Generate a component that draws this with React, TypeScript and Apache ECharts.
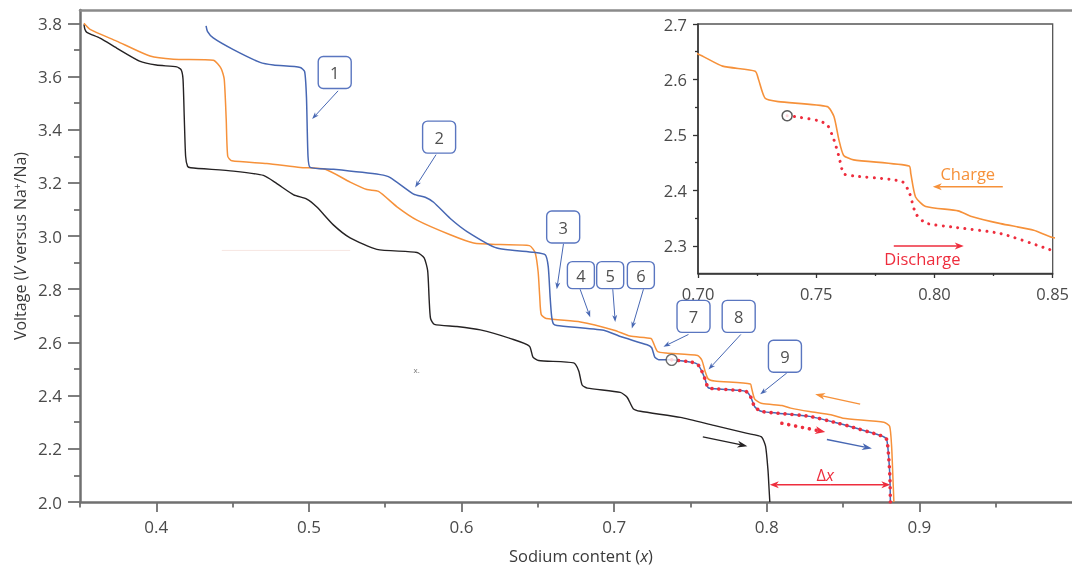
import { useEffect, useRef } from 'react';
import * as echarts from 'echarts';

type Pt = [number, number];

// First discharge (black): sodium content x vs voltage
const firstDischarge: Pt[] = [
  [0.3526, 3.796], [0.3532, 3.778], [0.3545, 3.766], [0.3631, 3.744], [0.374, 3.707], [0.389, 3.658],
  [0.4, 3.643], [0.4134, 3.636], [0.4163, 3.625], [0.4175, 3.59], [0.4183, 3.45], [0.4192, 3.3],
  [0.4205, 3.262], [0.4225, 3.257], [0.4505, 3.244], [0.4702, 3.228], [0.479, 3.197], [0.49, 3.155],
  [0.4986, 3.139], [0.5052, 3.109], [0.516, 3.042], [0.527, 2.993], [0.5445, 2.95], [0.5708, 2.938],
  [0.5755, 2.918], [0.5778, 2.87], [0.5788, 2.76], [0.5797, 2.69], [0.5822, 2.668], [0.597, 2.66],
  [0.6123, 2.647], [0.634, 2.611], [0.6445, 2.586], [0.6468, 2.545], [0.6505, 2.532], [0.6735, 2.523],
  [0.6768, 2.493], [0.679, 2.44], [0.6825, 2.428], [0.704, 2.412], [0.7085, 2.394], [0.7125, 2.351],
  [0.7172, 2.341], [0.7434, 2.318], [0.7653, 2.288], [0.7872, 2.258], [0.7965, 2.245], [0.7992, 2.21],
  [0.8008, 2.12], [0.8015, 2.05], [0.802, 2.0],
];

// Charge (orange)
const chargeCurve: Pt[] = [
  [0.3526, 3.8], [0.3566, 3.777], [0.374, 3.733], [0.3959, 3.677], [0.4112, 3.665], [0.4374, 3.661],
  [0.4425, 3.63], [0.4445, 3.59], [0.4458, 3.44], [0.4468, 3.3], [0.4495, 3.283], [0.4724, 3.273],
  [0.4943, 3.258], [0.5107, 3.251], [0.527, 3.203], [0.538, 3.175], [0.5456, 3.168], [0.5577, 3.11],
  [0.5708, 3.06], [0.5926, 3.005], [0.6079, 2.974], [0.6254, 2.968], [0.6445, 2.964], [0.6482, 2.938],
  [0.6502, 2.865], [0.6512, 2.775], [0.6522, 2.705], [0.6555, 2.69], [0.6779, 2.677], [0.7, 2.646],
  [0.7104, 2.624], [0.7242, 2.615], [0.7256, 2.6], [0.7284, 2.566], [0.734, 2.56], [0.7547, 2.551],
  [0.7575, 2.533], [0.7596, 2.491], [0.7616, 2.463], [0.7658, 2.455], [0.7893, 2.444], [0.79, 2.43],
  [0.792, 2.388], [0.7963, 2.371], [0.81, 2.363], [0.8157, 2.353], [0.828, 2.34], [0.842, 2.328],
  [0.85, 2.315], [0.8767, 2.3], [0.8805, 2.285], [0.8818, 2.21], [0.8826, 2.1], [0.8833, 2.0],
];

// Second discharge (blue) down to the open circle
const secondDischarge: Pt[] = [
  [0.4326, 3.79], [0.4335, 3.77], [0.4373, 3.745], [0.4505, 3.701], [0.468, 3.653], [0.4768, 3.643],
  [0.4943, 3.634], [0.4972, 3.618], [0.4984, 3.52], [0.4994, 3.3], [0.5008, 3.258], [0.5161, 3.251],
  [0.5467, 3.231], [0.5533, 3.22], [0.5686, 3.158], [0.5762, 3.146], [0.5817, 3.127], [0.5926, 3.066],
  [0.6036, 3.017], [0.6232, 2.955], [0.6473, 2.939], [0.6548, 2.93], [0.6568, 2.886], [0.658, 2.775],
  [0.659, 2.7], [0.6602, 2.67], [0.6625, 2.664], [0.6932, 2.646], [0.7041, 2.622], [0.7216, 2.591],
  [0.7246, 2.58], [0.7266, 2.545], [0.7292, 2.535],
];

// Discharge from the open circle onwards (red dotted, shared by the blue curve)
const dischargeTail: Pt[] = [
  [0.7377, 2.5345], [0.7409, 2.533], [0.7506, 2.526], [0.7547, 2.518], [0.7575, 2.491], [0.7596, 2.461],
  [0.7616, 2.43], [0.7658, 2.426], [0.781, 2.42], [0.7866, 2.415], [0.7893, 2.397], [0.7921, 2.358],
  [0.7963, 2.341], [0.8073, 2.334], [0.828, 2.322], [0.8475, 2.295], [0.8527, 2.287], [0.8745, 2.25],
  [0.8785, 2.236], [0.88, 2.16], [0.8807, 2.09], [0.881, 2.0],
];

// Axis ticks and labels
const mainXLabels = [0.4, 0.5, 0.6, 0.7, 0.8, 0.9];
const mainXMinor = [0.35, 0.45, 0.55, 0.65, 0.75, 0.85, 0.95];
const mainYLabels = [2.0, 2.2, 2.4, 2.6, 2.8, 3.0, 3.2, 3.4, 3.6, 3.8];
const mainYMinor = [2.1, 2.3, 2.5, 2.7, 2.9, 3.1, 3.3, 3.5, 3.7];
const insetXLabels = [0.7, 0.75, 0.8, 0.85];
const insetXMinor = [0.725, 0.775, 0.825];
const insetYLabels = [2.3, 2.4, 2.5, 2.6, 2.7];
const insetYMinor = [2.35, 2.45, 2.55, 2.65];

// Numbered callouts: box centre, arrow start, arrow tip (data coordinates)
const calloutNumbers = ['1', '2', '3', '4', '5', '6', '7', '8', '9'];
const calloutCenters: Pt[] = [
  [0.5169, 3.615], [0.5853, 3.372], [0.6666, 3.034], [0.6782, 2.853], [0.6974, 2.853],
  [0.7175, 2.853], [0.752, 2.698], [0.7816, 2.698], [0.8119, 2.548],
];
const calloutTails: Pt[] = [
  [0.5191, 3.546], [0.5833, 3.306], [0.6668, 2.971], [0.6777, 2.8], [0.6991, 2.8],
  [0.7192, 2.8], [0.7487, 2.63], [0.783, 2.63], [0.8131, 2.485],
];
const calloutTips: Pt[] = [
  [0.5021, 3.44], [0.5696, 3.183], [0.6624, 2.8], [0.6843, 2.695], [0.7007, 2.677],
  [0.7116, 2.652], [0.7323, 2.584], [0.7618, 2.498], [0.7957, 2.405],
];
const smallCallouts = ['4', '5', '6'];

// Direction arrows (data coordinates)
const chargeArrow: Pt[] = [[0.8612, 2.368], [0.8317, 2.405]];
const redArrow: Pt[] = [[0.8099, 2.296], [0.8383, 2.263]];
const blueArrow: Pt[] = [[0.8394, 2.235], [0.8689, 2.201]];
const blackArrow: Pt[] = [[0.7581, 2.245], [0.7873, 2.21]];
const deltaLevel = 2.065;
const deltaLabelAt: Pt = [0.8383, 2.102];

// Inset legend texts and arrows (inset data coordinates)
const insetChargeLabel: Pt = [0.8141, 2.4297];
const insetChargeArrow: Pt[] = [[0.8289, 2.4063], [0.7993, 2.4063]];
const insetDischargeLabel: Pt = [0.7949, 2.2762];
const insetDischargeArrow: Pt[] = [[0.7828, 2.2996], [0.8124, 2.2996]];

const strayMarkAt: Pt = [0.5706, 2.5];
const faintStroke: Pt[] = [[0.4429, 2.946], [0.527, 2.946]];

const FONT = "'Open Sans', 'Noto Sans', sans-serif";
const ORANGE = '#f6913a';
const BLUE = '#4767b3';
const BOX_BLUE = '#5a76c0';
const RED = '#ee2d3d';
const BLACK = '#252223';
const AXIS = '#707070';
const LABEL = '#4a4a4a';

function arrow(a: number[], b: number[], color: string, lw: number, hl: number, hw: number, dash?: number[]) {
  const dx = b[0] - a[0];
  const dy = b[1] - a[1];
  const L = Math.hypot(dx, dy) || 1;
  const ux = dx / L;
  const uy = dy / L;
  const bx = b[0] - ux * hl;
  const by = b[1] - uy * hl;
  const nx = -uy;
  const ny = ux;
  const notch = [b[0] - ux * hl * 0.72, b[1] - uy * hl * 0.72];
  return [
    {
      type: 'line', silent: true, z: 20,
      shape: { x1: a[0], y1: a[1], x2: notch[0], y2: notch[1] },
      style: dash
        ? { stroke: color, lineWidth: lw, lineDash: dash, lineCap: 'round' }
        : { stroke: color, lineWidth: lw },
    },
    {
      type: 'polygon', silent: true, z: 20,
      shape: { points: [b, [bx + (nx * hw) / 2, by + (ny * hw) / 2], notch, [bx - (nx * hw) / 2, by - (ny * hw) / 2]] },
      style: { fill: color },
    },
  ];
}

export default function App() {
  const ref = useRef<HTMLDivElement>(null);

  useEffect(() => {
    const chart = echarts.init(ref.current!, null, { renderer: 'svg' });
    const lineSeries = (data: Pt[], color: string, width: number, xi: number, yi: number, z = 2, dotted = false, gap = 6.8) => ({
      type: 'line',
      data,
      xAxisIndex: xi,
      yAxisIndex: yi,
      showSymbol: false,
      symbol: 'none',
      smooth: 0.2,
      clip: true,
      z,
      lineStyle: dotted
        ? { color, width, type: [0.01, gap], cap: 'round' }
        : { color, width },
    });

    const labelStyle = { color: LABEL, fontFamily: FONT, fontSize: 17 };
    const insetLabelStyle = { color: LABEL, fontFamily: FONT, fontSize: 16.5 };

    chart.setOption({
      animation: false,
      grid: [
        { left: 80, top: 10, right: 0, height: 499.5 },
        { left: 698, top: 24, width: 360, height: 249.5, show: true, borderColor: '#555', borderWidth: 1.3, backgroundColor: '#fff', z: 5 },
      ],
      xAxis: [
        {
          type: 'value', gridIndex: 0, min: 0.35, max: 1.0, position: 'bottom',
          axisLine: { onZero: false, lineStyle: { color: AXIS, width: 2.5 } },
          axisTick: { customValues: mainXLabels, length: 10, lineStyle: { color: AXIS, width: 1.8 } },
          axisLabel: { customValues: mainXLabels, margin: 16, formatter: (v: number) => v.toFixed(1), ...labelStyle },
          splitLine: { show: false },
          name: 'Sodium content ({it|x})', nameLocation: 'middle', nameGap: 45,
          nameTextStyle: { color: '#3a3a3a', fontFamily: FONT, fontSize: 16.5, padding: [0, 0, 0, 10], rich: { it: { fontStyle: 'italic', fontFamily: FONT, fontSize: 16.5, color: '#3a3a3a' } } },
        },
        {
          type: 'value', gridIndex: 0, min: 0.35, max: 1.0, position: 'bottom',
          axisLine: { show: false, onZero: false },
          axisTick: { customValues: mainXMinor, length: 5.5, lineStyle: { color: AXIS, width: 1.8 } },
          axisLabel: { show: false }, splitLine: { show: false },
        },
        {
          type: 'value', gridIndex: 0, min: 0.35, max: 1.0, position: 'top',
          axisLine: { onZero: false, lineStyle: { color: '#8a8a8a', width: 2.5 } },
          axisTick: { show: false }, axisLabel: { show: false }, splitLine: { show: false },
        },
        {
          type: 'value', gridIndex: 1, min: 0.7, max: 0.85, position: 'bottom', z: 6,
          axisLine: { onZero: false, lineStyle: { color: '#333', width: 1.5 } },
          axisTick: { customValues: insetXLabels, length: 4.5, lineStyle: { color: '#333', width: 1.3 } },
          axisLabel: { customValues: insetXLabels, margin: 11, formatter: (v: number) => v.toFixed(2), ...insetLabelStyle },
          splitLine: { show: false },
        },
        {
          type: 'value', gridIndex: 1, min: 0.7, max: 0.85, position: 'bottom', z: 6,
          axisLine: { show: false, onZero: false },
          axisTick: { customValues: insetXMinor, length: 2.5, lineStyle: { color: '#333', width: 1.3 } },
          axisLabel: { show: false }, splitLine: { show: false },
        },
      ],
      yAxis: [
        {
          type: 'value', gridIndex: 0, min: 2.0, max: 3.85, position: 'left',
          axisLine: { show: true, onZero: false, lineStyle: { color: AXIS, width: 2.5 } },
          axisTick: { show: true, customValues: mainYLabels, length: 12, lineStyle: { color: AXIS, width: 1.8 } },
          axisLabel: { customValues: mainYLabels, margin: 18, formatter: (v: number) => v.toFixed(1), ...labelStyle },
          splitLine: { show: false },
        },
        {
          type: 'value', gridIndex: 0, min: 2.0, max: 3.85, position: 'left',
          axisLine: { show: false, onZero: false },
          axisTick: { show: true, customValues: mainYMinor, length: 6, lineStyle: { color: AXIS, width: 1.8 } },
          axisLabel: { show: false }, splitLine: { show: false },
        },
        {
          type: 'value', gridIndex: 1, min: 2.25, max: 2.7, position: 'left', z: 6,
          axisLine: { show: true, onZero: false, lineStyle: { color: '#333', width: 1.5 } },
          axisTick: { show: true, customValues: insetYLabels, length: 5, lineStyle: { color: '#333', width: 1.3 } },
          axisLabel: { customValues: insetYLabels, margin: 11, formatter: (v: number) => v.toFixed(1), ...insetLabelStyle },
          splitLine: { show: false },
        },
        {
          type: 'value', gridIndex: 1, min: 2.25, max: 2.7, position: 'left', z: 6,
          axisLine: { show: false, onZero: false },
          axisTick: { show: true, customValues: insetYMinor, length: 3, lineStyle: { color: '#333', width: 1.3 } },
          axisLabel: { show: false }, splitLine: { show: false },
        },
      ],
      series: [
        lineSeries(firstDischarge, BLACK, 1.4, 0, 0),
        lineSeries(chargeCurve, ORANGE, 1.5, 0, 0),
        lineSeries(secondDischarge.concat(dischargeTail), BLUE, 1.5, 0, 0, 3),
        lineSeries(dischargeTail, RED, 3.6, 0, 0, 4, true, 7),
        {
          type: 'scatter', xAxisIndex: 0, yAxisIndex: 0, z: 6,
          data: [dischargeTail[0]], symbol: 'circle', symbolSize: 11,
          itemStyle: { color: '#fff', borderColor: '#4a4a4a', borderWidth: 1.3 },
        },
        lineSeries(chargeCurve, ORANGE, 1.6, 3, 2, 7),
        lineSeries(dischargeTail, RED, 3, 3, 2, 8, true, 7.3),
        {
          type: 'scatter', xAxisIndex: 3, yAxisIndex: 2, z: 9,
          data: [dischargeTail[0]], symbol: 'circle', symbolSize: 10,
          itemStyle: { color: '#fff', borderColor: '#333', borderWidth: 1.5 },
        },
      ],
    });

    const P = (p: number[]) => chart.convertToPixel({ xAxisIndex: 0, yAxisIndex: 0 }, p) as number[];
    const Q = (p: number[]) => chart.convertToPixel({ xAxisIndex: 3, yAxisIndex: 2 }, p) as number[];

    const graphics: any[] = [];

    // numbered callouts
    calloutNumbers.forEach((n, i) => {
      const c = P(calloutCenters[i]);
      const small = smallCallouts.includes(n);
      const w = small ? 27 : 33;
      const h = small ? 27 : 32;
      graphics.push(...arrow(P(calloutTails[i]), P(calloutTips[i]), BLUE, 1, 7, 5));
      graphics.push({
        type: 'rect', silent: true, z: 21,
        shape: { x: c[0] - w / 2, y: c[1] - h / 2, width: w, height: h, r: 5 },
        style: { fill: '#fff', stroke: BOX_BLUE, lineWidth: 1.4 },
      });
      graphics.push({
        type: 'text', silent: true, z: 22, x: c[0], y: c[1],
        style: { text: n, fill: '#505050', fontSize: 16.5, fontFamily: FONT, align: 'center', verticalAlign: 'middle' },
      });
    });

    // direction arrows
    graphics.push(...arrow(P(chargeArrow[0]), P(chargeArrow[1]), ORANGE, 1.4, 10, 7));
    graphics.push(...arrow(P(redArrow[0]), P(redArrow[1]), RED, 3.6, 10, 8, [0.01, 7]));
    graphics.push(...arrow(P(blueArrow[0]), P(blueArrow[1]), BLUE, 1.4, 10, 7));
    graphics.push(...arrow(P(blackArrow[0]), P(blackArrow[1]), BLACK, 1.4, 10, 7));

    // Δx between the ends of the first and second discharge
    const xStart = firstDischarge[firstDischarge.length - 1][0];
    const xEnd = dischargeTail[dischargeTail.length - 1][0];
    const dl = P([xStart, deltaLevel]);
    const dr = P([xEnd, deltaLevel]);
    const mid = [(dl[0] + dr[0]) / 2, dl[1]];
    graphics.push(...arrow(mid, dl, RED, 1.4, 9, 7));
    graphics.push(...arrow(mid, dr, RED, 1.4, 9, 7));
    const dlab = P(deltaLabelAt);
    graphics.push({
      type: 'text', silent: true, z: 22, x: dlab[0], y: dlab[1],
      style: {
        text: 'Δ{it|x}', fill: RED, fontSize: 16.5, fontFamily: FONT, align: 'center', verticalAlign: 'middle',
        rich: { it: { fontStyle: 'italic', fill: RED, fontSize: 16.5, fontFamily: FONT } },
      },
    });

    // inset legend
    const cl = Q(insetChargeLabel);
    graphics.push({
      type: 'text', silent: true, z: 22, x: cl[0], y: cl[1],
      style: { text: 'Charge', fill: ORANGE, fontSize: 16.5, fontFamily: FONT, align: 'center', verticalAlign: 'middle' },
    });
    graphics.push(...arrow(Q(insetChargeArrow[0]), Q(insetChargeArrow[1]), ORANGE, 1.5, 9, 7));
    const dlb = Q(insetDischargeLabel);
    graphics.push({
      type: 'text', silent: true, z: 22, x: dlb[0], y: dlb[1],
      style: { text: 'Discharge', fill: RED, fontSize: 16.5, fontFamily: FONT, align: 'center', verticalAlign: 'middle' },
    });
    graphics.push(...arrow(Q(insetDischargeArrow[0]), Q(insetDischargeArrow[1]), RED, 1.5, 9, 7));

    // y-axis title
    graphics.push({
      type: 'text', silent: true, z: 22, x: 20, y: 246, rotation: Math.PI / 2,
      style: {
        text: 'Voltage ({it|V} versus Na{sup|+}/Na)', fill: '#3a3a3a', fontSize: 16, fontFamily: FONT,
        align: 'center', verticalAlign: 'middle',
        rich: {
          it: { fontStyle: 'italic', fill: '#3a3a3a', fontSize: 16, fontFamily: FONT },
          sup: { fill: '#3a3a3a', fontSize: 10, fontFamily: FONT, verticalAlign: 'top' },
        },
      },
    });

    // small stray mark and faint stroke
    const sm = P(strayMarkAt);
    graphics.push({
      type: 'text', silent: true, z: 22, x: sm[0], y: sm[1],
      style: { text: 'x.', fill: '#777', fontSize: 8, fontFamily: FONT, align: 'center', verticalAlign: 'middle' },
    });
    const f0 = P(faintStroke[0]);
    const f1 = P(faintStroke[1]);
    graphics.push({
      type: 'line', silent: true, z: 1,
      shape: { x1: f0[0], y1: f0[1], x2: f1[0], y2: f1[1] },
      style: { stroke: '#f7e6e2', lineWidth: 1 },
    });

    chart.setOption({ graphic: graphics });

    return () => chart.dispose();
  }, []);

  return <div ref={ref} style={{ position: 'fixed', left: 0, top: 0, width: 1072, height: 569 }} />;
}
